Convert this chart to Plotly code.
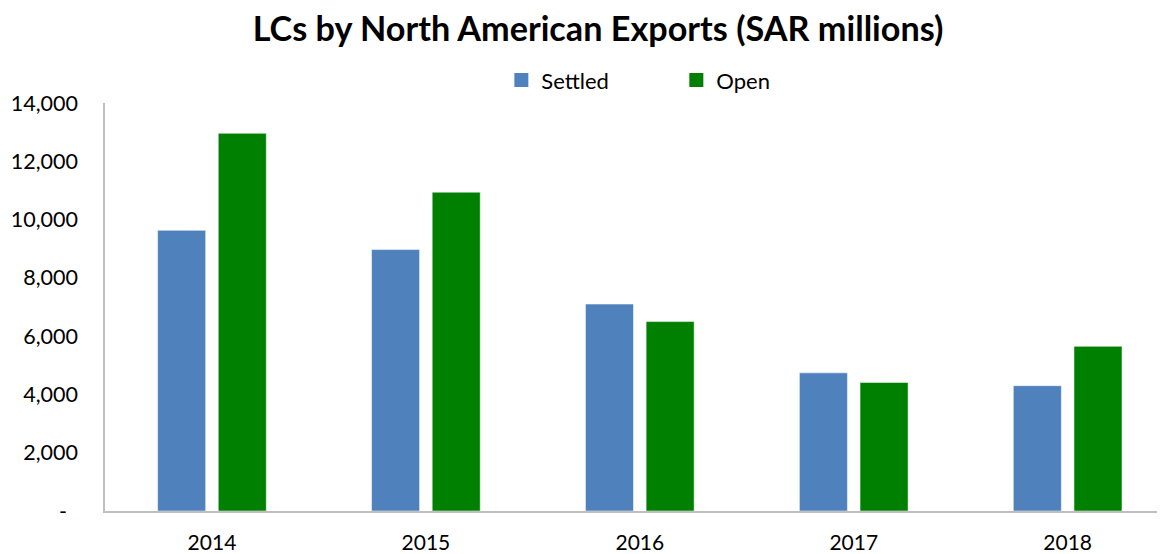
import plotly.graph_objects as go

years = ["2014", "2015", "2016", "2017", "2018"]
settled = [9630, 8970, 7100, 4740, 4300]
open_lcs = [12960, 10940, 6500, 4410, 5650]
y_tickvals = [0, 2000, 4000, 6000, 8000, 10000, 12000, 14000]
y_ticktext = ["-\u00a0\u00a0", "2,000", "4,000", "6,000", "8,000", "10,000", "12,000", "14,000"]

FONT = "Lato"
BLUE = "#4F81BD"
GREEN = "#008000"
fig = go.Figure()
fig.add_trace(go.Bar(name="Settled", x=years, y=settled, showlegend=False,
                     marker=dict(color=BLUE, line=dict(color="rgba(255,255,255,0.5)", width=1))))
fig.add_trace(go.Bar(name="Open", x=years, y=open_lcs, showlegend=False,
                     marker=dict(color=GREEN, line=dict(color="rgba(255,255,255,0.5)", width=1))))
# legend entries with square swatches
for nm, col in [("Settled", BLUE), ("Open", GREEN)]:
    fig.add_trace(go.Scatter(name=nm, x=[None], y=[None], mode="markers",
                             marker=dict(symbol="square", size=14, color=col)))

# page body has an 8px margin, so the figure is sized/positioned to compensate
fig.update_layout(
    width=1157, height=546,
    paper_bgcolor="white", plot_bgcolor="white",
    margin=dict(l=97, r=0, t=95, b=43, autoexpand=False),
    barmode="group", bargap=0.433, bargroupgap=0.208,
    font=dict(family=FONT, color="black", size=20),
    title=dict(text="<b>LCs by North American Exports (SAR millions)</b>",
               x=0.51, xanchor="center", y=0.961, yanchor="middle", yref="container",
               font=dict(family=FONT, size=34.2, color="black")),
    legend=dict(orientation="h", x=0.539, xanchor="center", y=1.056, yanchor="middle",
                font=dict(size=22), entrywidth=130, itemwidth=30),
    xaxis=dict(type="category", range=[-0.5, 4.455], showline=True, linecolor="#BFBFBF",
               linewidth=1.5, showgrid=False, ticks="outside", ticklen=12,
               tickcolor="rgba(0,0,0,0)", tickfont=dict(size=21), automargin=False),
    yaxis=dict(range=[0, 14000], showline=True, linecolor="#BFBFBF", linewidth=1.5,
               showgrid=False, zeroline=False, tickvals=y_tickvals, ticktext=y_ticktext,
               ticks="outside", ticklen=21, tickcolor="rgba(0,0,0,0)",
               tickfont=dict(size=21.5), automargin=False),
)
fig.write_html("out.html")
